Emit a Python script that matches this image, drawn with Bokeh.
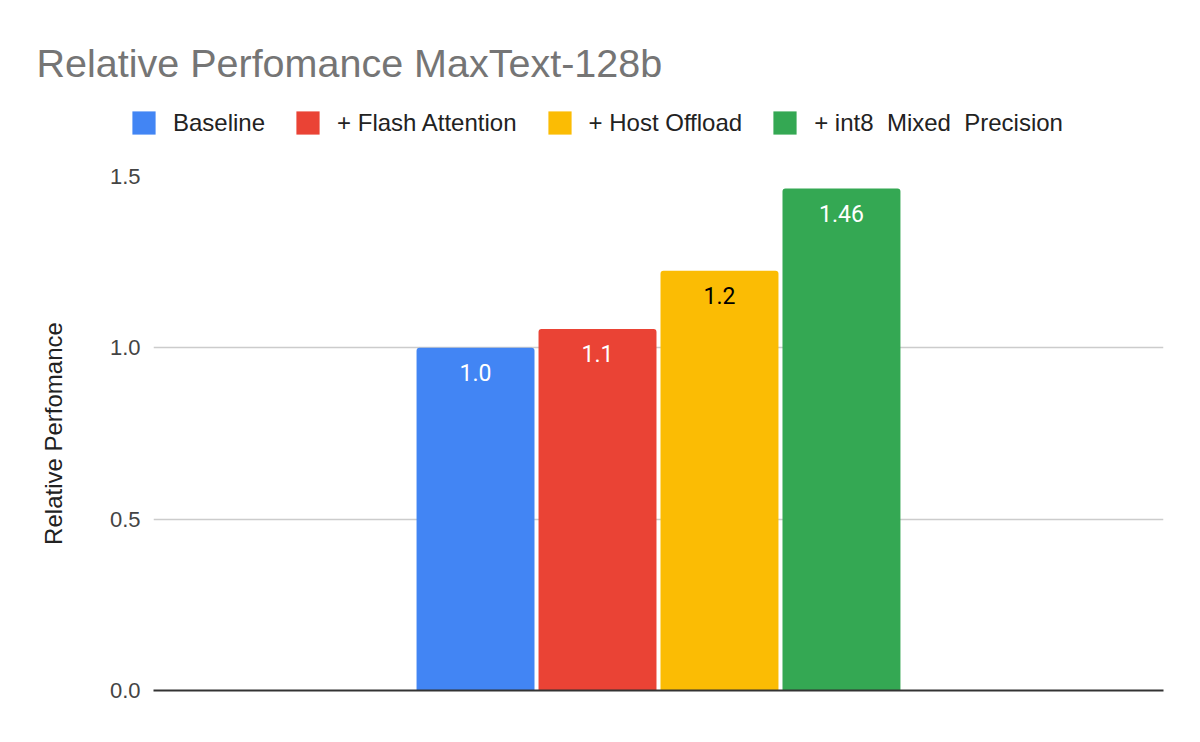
from bokeh.plotting import figure
from bokeh.layouts import column, row
from bokeh.models import (ColumnDataSource, FactorRange, Range1d, Legend, LegendItem,
                          Label, FixedTicker)
from bokeh.core.properties import value
from bokeh.embed import file_html
from bokeh.resources import INLINE

series = ["Baseline", "+ Flash Attention", "+ Host Offload", "+ int8  Mixed  Precision"]
perf = [1.0, 1.055, 1.225, 1.465]
perf_labels = ["1.0", "1.1", "1.2", "1.46"]
y_ticks = [0.0, 0.5, 1.0, 1.5]

bar_colors = ["#4285f4", "#ea4335", "#fbbc04", "#34a853"]
label_colors = ["#ffffff", "#ffffff", "#000000", "#ffffff"]

src = ColumnDataSource(dict(name=series, perf=perf, label=perf_labels,
                            color=bar_colors, tcolor=label_colors))

# header: title + legend (own figure so the legend can sit left of the frame)
head = figure(width=1184, height=150, x_range=FactorRange(factors=series),
              y_range=Range1d(0, 1),
              x_axis_location=None, y_axis_location=None,
              output_backend="svg", toolbar_location=None, tools="",
              min_border=0)
head.outline_line_color = None
head.grid.grid_line_color = None

head.add_layout(Label(x=36, y=88, x_units="screen", y_units="screen",
                      text="Relative Perfomance MaxText-128b", text_baseline="middle",
                      text_font="Liberation Sans", text_font_size="39.5px",
                      text_color="#757575"))

# hidden copy of the bars, only used to draw the legend swatches
swatch = head.vbar(x="name", top="perf", bottom=0, width=0.9, source=src,
                   fill_color="color", line_color=None, border_radius=3, visible=False)
items = [LegendItem(label=s, renderers=[swatch], index=i) for i, s in enumerate(series)]
legend = Legend(items=items, orientation="horizontal", location=(129, 13),
                border_line_color=None, background_fill_alpha=0, padding=0, margin=0,
                glyph_width=29, glyph_height=29, label_standoff=15, spacing=28,
                inactive_fill_alpha=0,
                label_text_font="Liberation Sans", label_text_font_size="24px",
                label_text_color="#222222", label_text_baseline="middle")
head.add_layout(legend, "center")

# main chart
p = figure(
    width=1184, height=576,
    x_range=FactorRange(factors=series, range_padding=2.14, range_padding_units="absolute"),
    y_range=Range1d(0, 1.5),
    output_backend="svg", toolbar_location=None, tools="",
    min_border_left=153, min_border_right=21, min_border_top=26, min_border_bottom=36,
)
p.outline_line_color = None

p.vbar(x="name", top="perf", bottom=0, width=0.967, source=src,
       fill_color="color", line_color=None, border_radius=(3, 3, 0, 0))

p.text(x="name", y="perf", text="label", source=src, text_color="tcolor",
       text_align="center", text_baseline="middle", y_offset=25,
       text_font=value("Roboto"), text_font_size="23px")

p.xgrid.grid_line_color = None
p.ygrid.grid_line_color = "#cccccc"
p.ygrid.grid_line_width = 1.5
p.ygrid.ticker = FixedTicker(ticks=y_ticks)

p.yaxis.ticker = FixedTicker(ticks=y_ticks)
p.yaxis.major_label_overrides = {t: f"{t:.1f}" for t in y_ticks}
p.yaxis.axis_line_color = None
p.yaxis.major_tick_line_color = None
p.yaxis.minor_tick_line_color = None
p.yaxis.major_label_standoff = 7
p.yaxis.major_label_text_font = "Liberation Sans"
p.yaxis.major_label_text_font_size = "22px"
p.yaxis.major_label_text_color = "#444444"
p.yaxis.axis_label = "Relative Perfomance"
p.yaxis.axis_label_standoff = 40
p.yaxis.axis_label_text_font = "Liberation Sans"
p.yaxis.axis_label_text_font_size = "24px"
p.yaxis.axis_label_text_font_style = "normal"
p.yaxis.axis_label_text_color = "#222222"

p.xaxis.axis_line_color = "#333333"
p.xaxis.axis_line_width = 2
p.xaxis.major_tick_line_color = None
p.xaxis.minor_tick_line_color = None
p.xaxis.major_label_text_font_size = "1px"
p.xaxis.major_label_text_alpha = 0
p.xaxis.major_label_standoff = 0

layout = column(row(head), p, spacing=0)
open("out.html", "w").write(file_html(layout, INLINE))
